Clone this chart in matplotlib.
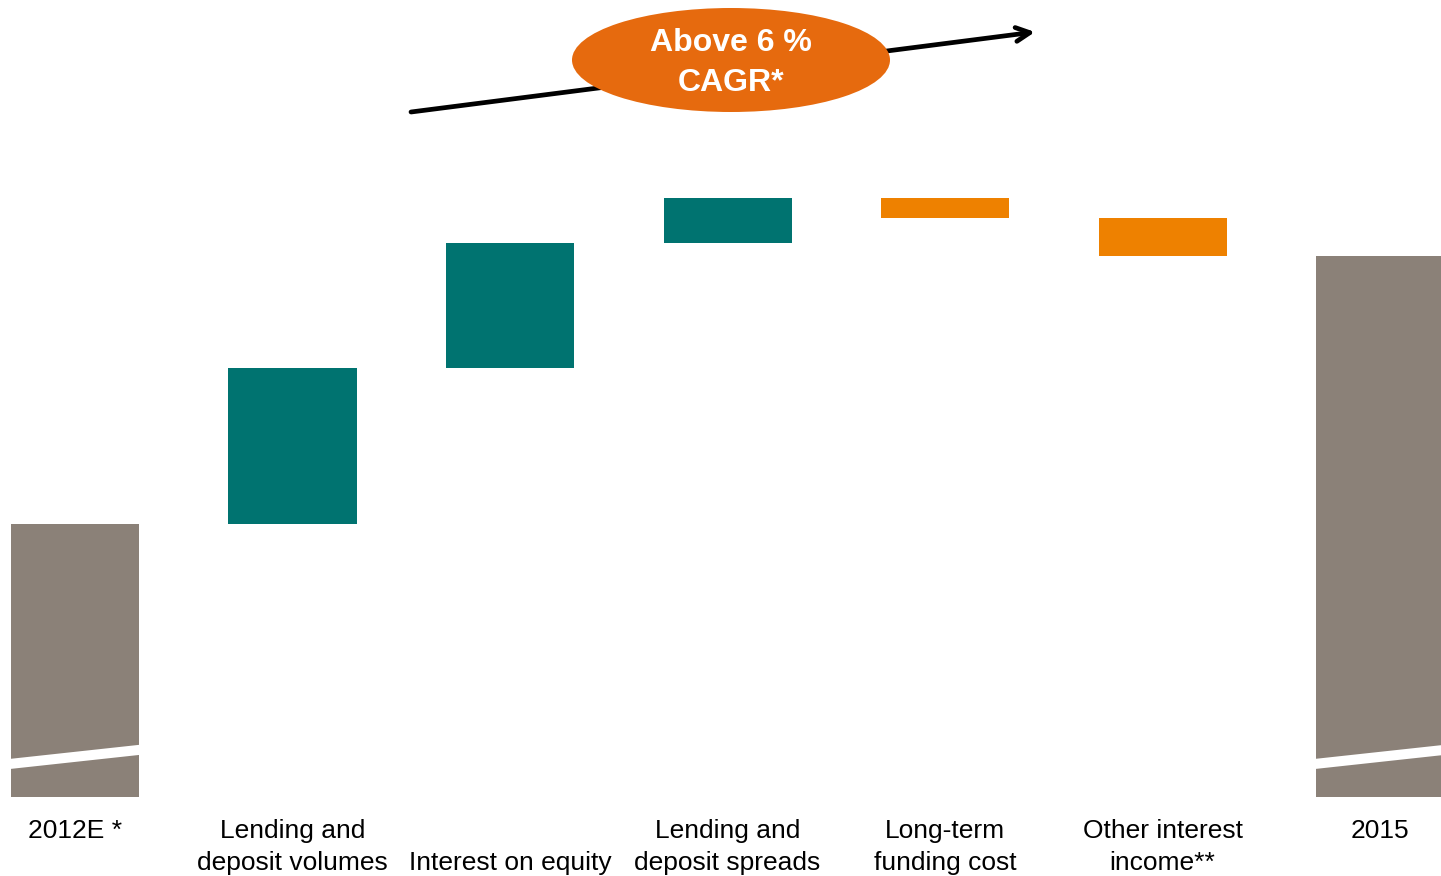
import matplotlib
matplotlib.use("Agg")
import matplotlib.pyplot as plt
from matplotlib.patches import Ellipse, Polygon

plt.rcParams['font.family'] = ['Liberation Sans', 'DejaVu Sans']

categories = ["2012E *", "Lending and\ndeposit volumes", "\nInterest on equity",
              "Lending and\ndeposit spreads", "Long-term\nfunding cost",
              "Other interest\nincome**", "2015"]
start_value = 100.0
changes = [57.1, 45.8, 16.5, -7.3, -13.9]
end_value = 198.2

grey = "#8B8178"
teal = "#007370"
orange = "#EE8100"
ellipse_col = "#E66A0E"

fig = plt.figure(figsize=(14.41, 8.76), dpi=100)
ax = fig.add_axes([0, 0, 1, 1])
ax.set_xlim(-0.345, 6.28)
ax.set_ylim(-28.94, 291.94)
ax.axis('off')

w = 0.589
# totals
ax.bar(0, start_value, width=w, color=grey)
ax.bar(6, end_value, width=w, color=grey)
level = start_value
for i, c in enumerate(changes, start=1):
    bottom = level if c >= 0 else level + c
    ax.bar(i, abs(c), bottom=bottom, width=w, color=teal if c >= 0 else orange)
    level += c

# break marks on totals
for xc in (0, 6):
    x0, x1 = xc - w / 2 - 0.05, xc + w / 2 + 0.05
    slope = 5.1 / w
    yb0 = 10.3 - slope * 0.05
    yb1 = 15.4 + slope * 0.05
    poly = Polygon([(x0, yb0), (x1, yb1), (x1, yb1 + 3.7), (x0, yb0 + 3.7)],
                   closed=True, facecolor='white', edgecolor='none', zorder=3)
    ax.add_patch(poly)

# category labels
for i, lab in enumerate(categories):
    ax.text(i, -8.2, lab, ha='center', va='top', fontsize=19,
            linespacing=1.38, color='black')

# CAGR arrow and ellipse (axes-fraction coordinates)
ax.annotate("", xy=(1035 / 1441, 1 - 32 / 876), xytext=(411 / 1441, 1 - 112 / 876),
            xycoords='axes fraction', textcoords='axes fraction',
            arrowprops=dict(arrowstyle='->,head_length=1.0,head_width=0.5',
                            lw=3.4, color='black', shrinkA=0, shrinkB=0),
            zorder=4)
ell = Ellipse((731 / 1441, 1 - 60 / 876), 318 / 1441, 104 / 876,
              transform=ax.transAxes, facecolor=ellipse_col, edgecolor='none', zorder=5)
ax.add_patch(ell)
ax.text(731 / 1441, 1 - 63 / 876, "Above 6 %\nCAGR*", transform=ax.transAxes,
        ha='center', va='center', fontsize=23, fontweight='bold', color='white',
        linespacing=1.45, zorder=6)

fig.savefig("out.png", dpi=100)
